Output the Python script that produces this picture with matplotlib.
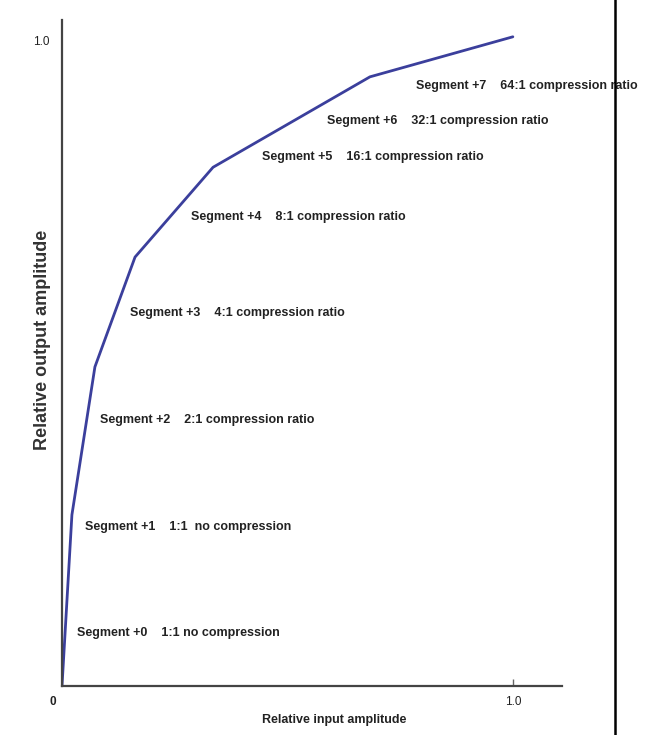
import matplotlib
matplotlib.use("Agg")
import matplotlib.pyplot as plt
from matplotlib.lines import Line2D

# breakpoints of the segmented compression curve
input_amp = [0.0, 0.022, 0.073, 0.162, 0.335, 0.683, 1.0]
output_amp = [0.0, 0.265, 0.494, 0.664, 0.803, 0.943, 1.005]

seg_labels = [
    "Segment +0    1:1 no compression",
    "Segment +1    1:1  no compression",
    "Segment +2    2:1 compression ratio",
    "Segment +3    4:1 compression ratio",
    "Segment +4    8:1 compression ratio",
    "Segment +5    16:1 compression ratio",
    "Segment +6    32:1 compression ratio",
    "Segment +7    64:1 compression ratio",
]
# where each label sits (x of left edge, y of centre), data units
label_x = [0.033, 0.051, 0.084, 0.151, 0.286, 0.443, 0.588, 0.785]
label_y = [0.082, 0.246, 0.412, 0.578, 0.726, 0.819, 0.875, 0.929]

plt.rcParams['font.family'] = ['Liberation Sans Narrow', 'Liberation Sans', 'DejaVu Sans']

fig = plt.figure(figsize=(6.59, 7.35), dpi=100)
W, H = 659, 735
ax = fig.add_axes([62 / W, 1 - 686 / H, 500 / W, 666 / H])

ax.plot(input_amp, output_amp, color='#3b3f9c', lw=2.0, solid_capstyle='round')

for x, y, s in zip(label_x, label_y, seg_labels):
    ax.text(x, y, s, fontsize=9, fontweight='bold', color='#222222',
            ha='left', va='center')

ax.set_xlim(0, 1.109)
ax.set_ylim(0, 1.031)
for side in ['top', 'right']:
    ax.spines[side].set_visible(False)
for side in ['left', 'bottom']:
    ax.spines[side].set_color('#444444')
    ax.spines[side].set_linewidth(1.6)

ax.set_xticks([1.0])
ax.set_xticklabels(['1.0'])
ax.set_yticks([1.0])
ax.set_yticklabels(['1.0'])
ax.tick_params(axis='both', direction='in', length=5, width=1, color='#666666',
               labelsize=8.5, labelcolor='#222222')
ax.tick_params(axis='y', length=0, pad=9)
ax.tick_params(axis='x', pad=7)
ax.text(-0.012, -0.025, '0', fontsize=8.5, fontweight='bold', color='#222222',
        ha='right', va='center')

ax.set_xlabel('Relative input amplitude', fontsize=9, fontweight='bold',
              color='#222222')
ax.xaxis.set_label_coords(0.545, -0.042)
ax.set_ylabel('Relative output amplitude', fontsize=13, fontweight='bold',
              color='#333333')
ax.yaxis.set_label_coords(-0.022, 0.52)

# thin border line on the right of the page
fig.add_artist(Line2D([615 / W, 615 / W], [0, 1], color='black', lw=1.8,
                      transform=fig.transFigure))

fig.savefig('out.png', dpi=100, facecolor='white')
